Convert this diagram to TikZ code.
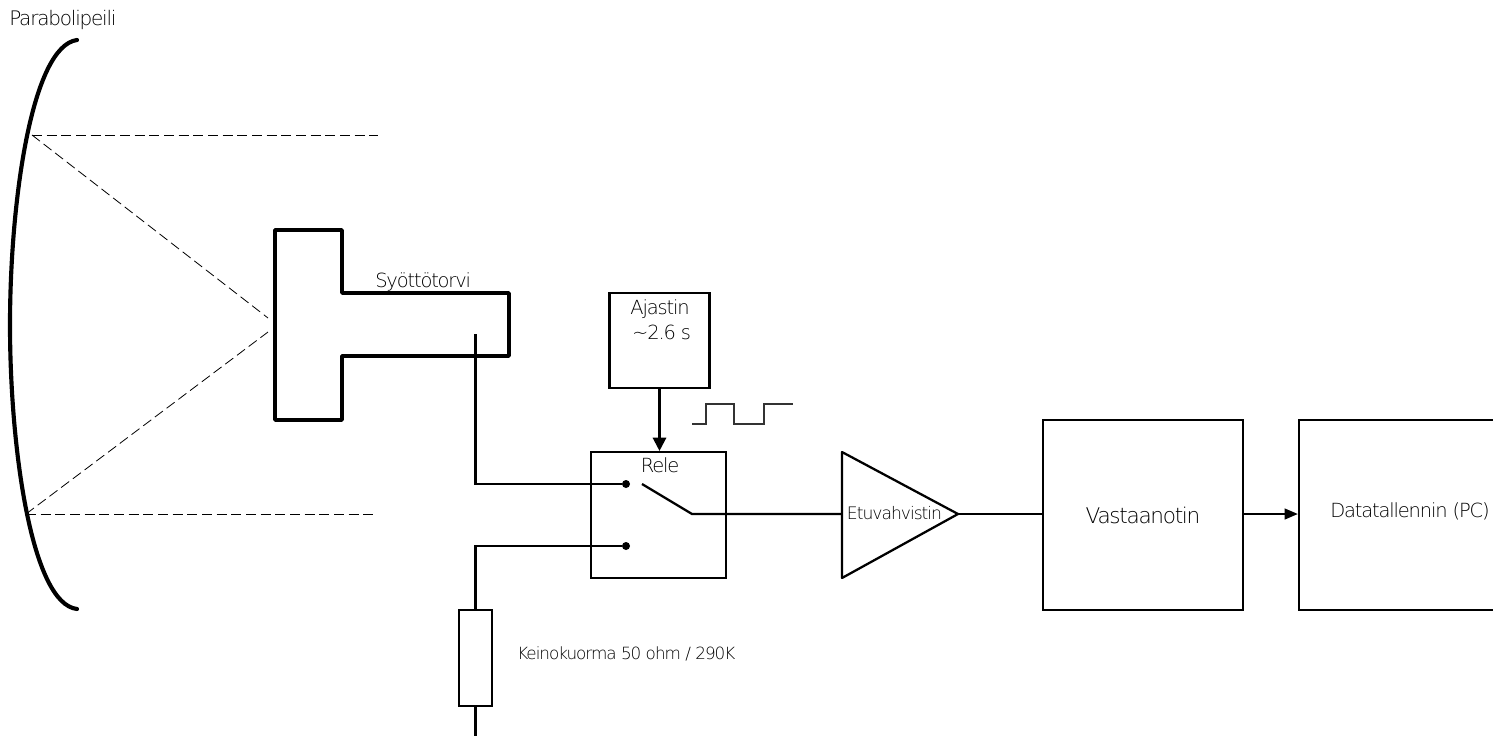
\documentclass[tikz,border=0pt]{standalone}
\usepackage{fontspec}
\setmainfont{DejaVu Sans}[UprightFont=* ExtraLight,LetterSpace=-6]
\usetikzlibrary{arrows.meta}
\tikzset{
  blockbox/.style={draw,line width=1.6pt,minimum width=#1,inner sep=0pt},
  txt/.style={text=black,inner sep=0pt,font=\fontsize{14.6}{18.7}\selectfont},
  pientxt/.style={txt,font=\fontsize{12.9}{15}\selectfont},
  wire/.style={line width=1.7pt},
  beam/.style={line width=0.6pt,dash pattern=on 7.5pt off 3.5pt},
  pin/.style={circle,fill=black,inner sep=0pt,minimum size=6pt}
}
\begin{document}
\begin{tikzpicture}[x=0.75pt,y=-0.75pt]
\useasboundingbox (0,0) rectangle (1493,736);

% peili
\draw[line width=3.1pt,line cap=round] (77,40) .. controls (32,46) and (10,200) .. (10,325) .. controls (10,450) and (32,604) .. (77,609);
\node[txt,font=\fontsize{15}{18}\selectfont,anchor=west] (peili) at (9,20) {Parabolipeili};

\coordinate (ylaf) at (32,135);
\coordinate (alaf) at (26,514);
\coordinate (ylae) at (378,135);
\coordinate (alae) at (374,514);
\coordinate (ylat) at (268,318);
\coordinate (alat) at (268,332);
\draw[beam] (ylaf) -- (ylae);
\draw[beam] (ylaf) -- (ylat);
\draw[beam] (alaf) -- (alat);
\draw[beam] (alaf) -- (alae);

% torvi
\draw[line width=2.7pt,line join=round] (275,230) -- (342,230) -- (342,293) -- (509,293) -- (509,356) -- (342,356) -- (342,420) -- (275,420) -- cycle;
\node[txt,anchor=west] (torvi) at (375,282) {Syöttötorvi};
\coordinate (anturi) at (475.5,334);

% lohkot
\node[blockbox=75pt,minimum height=71.25pt] (ajastin) at (659.5,340.5) {};
\node[txt,align=center] (ajastinteksti) at (660,320) {Ajastin\\\,\textasciitilde2.6 s};
\node[blockbox=101.25pt,minimum height=94.5pt] (rele) at (658.5,515) {};
\node[txt] (releteksti) at (660,465) {Rele};
\node[pin] (pina) at (626,484) {};
\node[pin] (pinb) at (626,546) {};
\coordinate (kieli) at (642,484);
\coordinate (kiinto) at (692,514);

\node[blockbox=150pt,minimum height=142.5pt,font=\fontsize{16.2}{18}\selectfont] (vast) at (1143,515) {Vastaanotin};
\node[blockbox=150pt,minimum height=142.5pt] (data) at (1399,515) {};
\node[txt] (datateksti) at (1410,511) {Datatallennin (PC)};
\node[blockbox=25pt,minimum height=72pt] (kuorma) at (475.5,658) {};
\node[pientxt,font=\fontsize{12.6}{15}\selectfont,anchor=west] (kuormateksti) at (517,654) {Keinokuorma 50 ohm / 290K};
\coordinate (maa) at (475.5,736);

% vahvistin
\coordinate (vtulo) at (842,514);
\coordinate (vlahto) at (958,514);
\draw[wire,line join=round] (842,452) -- (vlahto) -- (842,578) -- cycle;
\node[pientxt] (vahvistin) at (894.5,513) {Etuvahvistin};

% johdot
\draw[wire] (anturi) |- (pina);
\draw[wire] (pinb) -| (kuorma.north);
\draw[wire] (kuorma.south) -- (maa);
\draw[wire] (kieli) -- (kiinto) -- (vtulo);
\draw[wire] (vlahto) -- (vlahto -| vast.west);
\draw[wire,-{Triangle[length=10pt,width=10pt]}] (ajastin.south) -- (ajastin.south |- rele.north);
\draw[wire,-{Triangle[length=10pt,width=8pt]}] (vlahto -| vast.east) -- (vlahto -| data.west);

% pulssi
\draw[line width=0.8pt,black!80] (692,424) -- (706,424) -- (706,404) -- (734,404) -- (734,424) -- (764,424) -- (764,404) -- (793,404);
\end{tikzpicture}
\end{document}
